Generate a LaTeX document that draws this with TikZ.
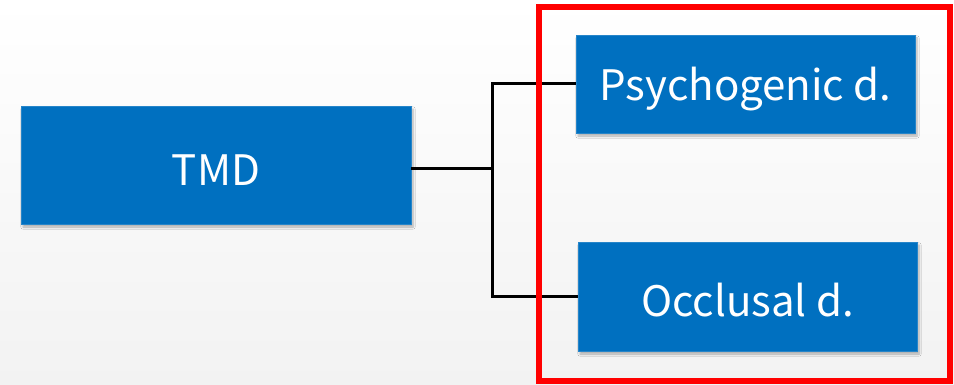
\documentclass[tikz,border=0pt]{standalone}
\usepackage{fontspec}
\setmainfont{Noto Sans CJK JP}
\usetikzlibrary{shadows.blur}
\definecolor{boxblue}{HTML}{0070C0}
\definecolor{bgend}{HTML}{F2F2F2}
\definecolor{frame}{HTML}{FF0000}
\tikzset{
  bluebox/.style={draw=boxblue!85!white, line width=0.6pt, fill=boxblue, inner sep=0pt, blur shadow={shadow xshift=2pt, shadow yshift=-3pt, shadow blur steps=6, shadow opacity=30}},
  boxtext/.style={text=white, font=\fontsize{42}{48}\selectfont, inner sep=0pt},
  conn/.style={draw=black, line width=3pt}
}
\begin{document}
\begin{tikzpicture}[x=1pt,y=-1pt]
\useasboundingbox (0,0) rectangle (954,385);
\shade[top color=white, bottom color=bgend] (0,0) rectangle (954,385);
\node[bluebox, minimum width=390pt, minimum height=118pt] (tmd) at (216,165) {};
\node[bluebox, minimum width=339pt, minimum height=98pt] (psy) at (745.5,84) {};
\node[bluebox, minimum width=339pt, minimum height=109pt] (occ) at (747.5,296.5) {};
\node[boxtext] (tmdt) at ([yshift=-5pt]tmd.center) {TMD};
\node[boxtext] (psyt) at ([yshift=-5pt]psy.center) {Psychogenic d.};
\node[boxtext] (occt) at ([yshift=-4pt]occ.center) {Occlusal d.};
\coordinate (j) at (492,169);
\draw[conn] (tmd.east |- j) -- (j);
\draw[conn, line cap=rect] (j |- psy.west) -- (j |- 0,296);
\draw[conn] (j |- psy.west) -- (psy.west);
\draw[conn] (j |- 0,296) -- (occ.west |- 0,296);
\node[draw=frame, line width=6pt, minimum width=411pt, minimum height=374pt, inner sep=0pt] (frm) at (744.5,194) {};
\end{tikzpicture}
\end{document}
